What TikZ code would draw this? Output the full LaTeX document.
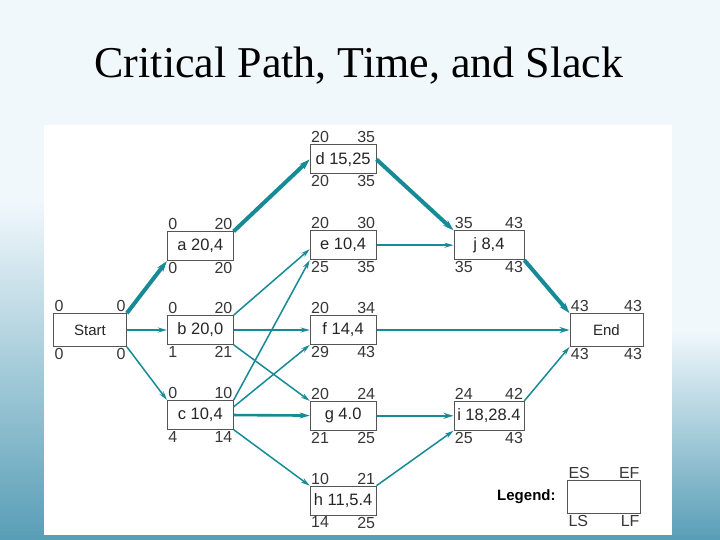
\documentclass[tikz,border=0pt]{standalone}
\usepackage{fontspec}
\setmainfont{Liberation Serif}
\setsansfont{Liberation Sans}
\usepackage{xcolor}
\usetikzlibrary{arrows.meta,positioning}

\definecolor{arrowteal}{RGB}{22,138,150}
\definecolor{slidebg}{RGB}{241,248,252}
\definecolor{slideteal}{RGB}{88,158,182}
\definecolor{boxgray}{RGB}{85,85,85}
\definecolor{numgray}{RGB}{55,55,55}

% ES/EF above the box, LS/LF below it
\newcommand{\timelabels}[5]{%
  \node[num, anchor=south west] (#1-es) at (#1.north west) {#2};
  \node[num, anchor=south east] (#1-ef) at (#1.north east) {#3};
  \node[num, anchor=north west] (#1-ls) at (#1.south west) {#4};
  \node[num, anchor=north east] (#1-lf) at (#1.south east) {#5};
}

\begin{document}
\begin{tikzpicture}[
    x=1pt, y=-1pt,
    act/.style={draw=boxgray, line width=0.8pt, minimum width=66pt, minimum height=29pt,
                inner sep=0pt, font=\sffamily\fontsize{16.5}{18}\selectfont, text=black!85},
    endbox/.style={act, minimum width=73pt, minimum height=33pt,
                   font=\sffamily\fontsize{15}{17}\selectfont},
    num/.style={inner sep=1.2pt, font=\sffamily\fontsize{16}{18}\selectfont, text=numgray},
    arr/.style={draw=arrowteal, line width=1.5pt, -{Stealth[length=9pt,width=5pt]}},
    mid/.style={draw=arrowteal, line width=2.6pt, -{Stealth[length=10pt,width=6pt]}},
    crit/.style={draw=arrowteal, line width=4pt, -{Stealth[length=11pt,width=7pt]}},
]

% --- Slide background ---
\useasboundingbox (0,0) rectangle (720,540);
\fill[slidebg] (0,0) rectangle (720,540);
\shade[top color=slidebg, bottom color=slideteal] (0,200) rectangle (44,540);
\shade[top color=slidebg, bottom color=slideteal] (672,330) rectangle (720,540);
\fill[slideteal] (0,535) rectangle (720,540);
\fill[white] (44,125) rectangle (672,535);

\node[font=\fontsize{44}{48}\selectfont] (title) at (359,66) {Critical Path, Time, and Slack};

% --- Nodes ---
\node[endbox] (start) at (90,330) {Start};
\node[act, right=40pt of start] (b) {b 20,0};
\node[act, above=54pt of b] (a) {a 20,4};
\node[act, below=55pt of b] (c) {c 10,4};
\node[act, right=76pt of b] (f) {f 14,4};
\node[act, above=55pt of f] (e) {e 10,4};
\node[act, above=56pt of e] (d) {d 15,25};
\node[act, below=56pt of f] (g) {g 4.0};
\node[act, below=55pt of g] (h) {h 11,5.4};
\node[act, minimum width=70pt, right=77pt of e] (j) {j 8,4};
\node[act, minimum width=70pt, right=77pt of g] (i) {i 18,28.4};
\node[endbox, right=193pt of f] (end) {End};

% --- Times ---
\timelabels{start}{0}{0}{0}{0}
\timelabels{a}{0}{20}{0}{20}
\timelabels{b}{0}{20}{1}{21}
\timelabels{c}{0}{10}{4}{14}
\timelabels{d}{20}{35}{20}{35}
\timelabels{e}{20}{30}{25}{35}
\timelabels{f}{20}{34}{29}{43}
\timelabels{g}{20}{24}{21}{25}
\timelabels{h}{10}{21}{14}{25}
\timelabels{j}{35}{43}{35}{43}
\timelabels{i}{24}{42}{25}{43}
\timelabels{end}{43}{43}{43}{43}

% --- Arrows ---
\draw[crit] (start.north east) -- (a.south west);
\draw[arr] (start) -- (b);
\draw[arr] (start.south east) -- (c.north west);
\draw[crit] (a.north east) -- (d.west);
\draw[arr] (b.north east) -- ([yshift=-4pt]e.west);
\draw[arr] (b) -- (f);
\draw[arr] (b.south east) -- (g.north west);
\draw[arr] (c.north east) -- (e.south west);
\draw[arr] ([yshift=8pt]c.east) -- (f.south west);
\draw[mid] (c) -- (g);
\draw[arr] (c.south east) -- (h.north west);
\draw[crit] (d.east) -- (j.north west);
\draw[arr] (e) -- (j);
\draw[mid] (f) -- (end);
\draw[mid] (g) -- (i);
\draw[arr] (h.north east) -- (i.south west);
\draw[crit] (j.south east) -- (end.north west);
\draw[arr] (i.north east) -- (end.south west);

% --- Legend ---
\node[endbox] (legend) at (604,497) {};
\timelabels{legend}{ES}{EF}{LS}{LF}
\node[left=8pt of legend, font=\sffamily\bfseries\fontsize{15}{17}\selectfont] (legendlabel) {Legend:};

\end{tikzpicture}
\end{document}
